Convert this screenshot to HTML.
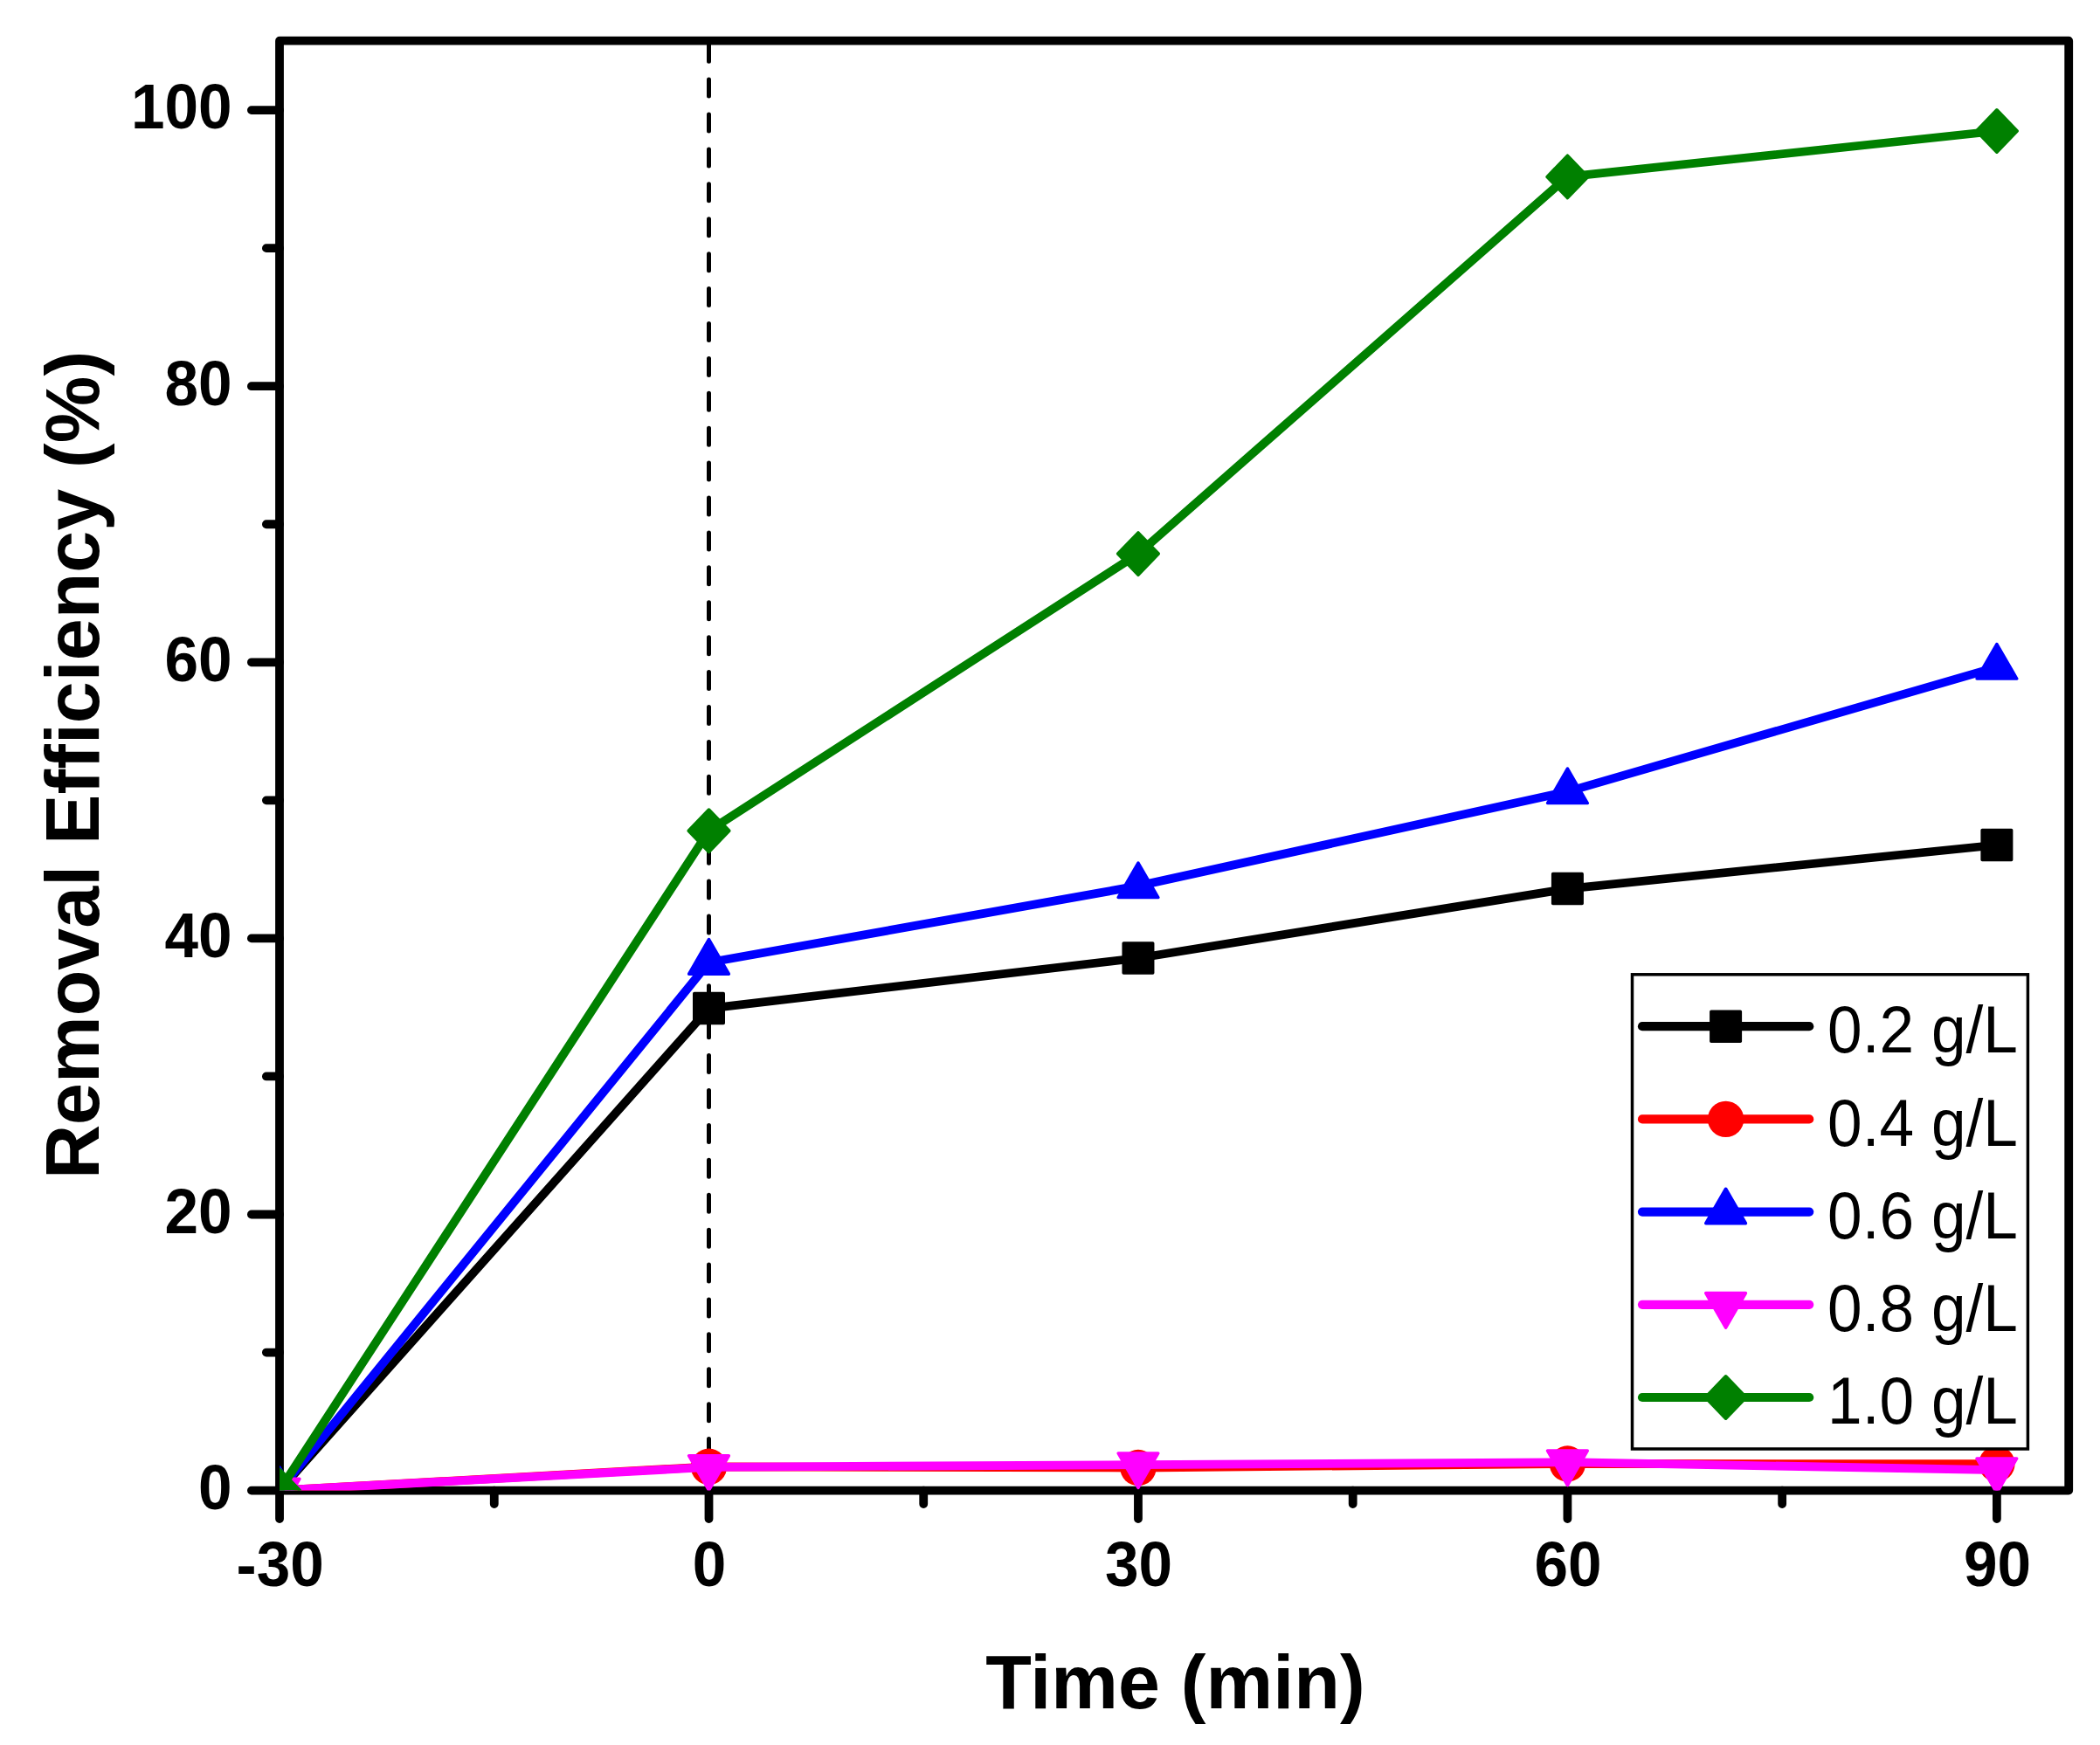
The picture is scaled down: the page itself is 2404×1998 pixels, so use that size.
<!DOCTYPE html>
<html lang="en"><head><meta charset="utf-8"><title>Removal Efficiency vs Time</title>
<style>html,body{margin:0;padding:0;background:#fff;}body{width:2404px;height:1998px;overflow:hidden;}svg{display:block;}text{font-family:"Liberation Sans", Arial, Helvetica, sans-serif;fill:#000;}.b{font-weight:bold;}</style></head><body>
<svg width="2404" height="1998" viewBox="0 0 2404 1998">
<rect x="0" y="0" width="2404" height="1998" fill="#ffffff"/>
<defs><clipPath id="plot"><rect x="320.0" y="46.7" width="2048.20" height="1659.90"/></clipPath></defs>
<rect x="320.0" y="46.7" width="2048.20" height="1659.90" fill="none" stroke="#000" stroke-width="9.8" stroke-linejoin="round"/>
<path d="M287.90 1706.60H320.0M304.90 1548.55H320.0M287.90 1390.50H320.0M304.90 1232.45H320.0M287.90 1074.40H320.0M304.90 916.35H320.0M287.90 758.30H320.0M304.90 600.25H320.0M287.90 442.20H320.0M304.90 284.15H320.0M287.90 126.10H320.0M320.04 1706.6V1739.10M565.77 1706.6V1722.00M811.50 1706.6V1739.10M1057.23 1706.6V1722.00M1302.96 1706.6V1739.10M1548.69 1706.6V1722.00M1794.42 1706.6V1739.10M2040.15 1706.6V1722.00M2285.88 1706.6V1739.10" fill="none" stroke="#000" stroke-width="9.8" stroke-linecap="round"/>
<line x1="811.5" y1="51.2" x2="811.5" y2="1706.6" stroke="#000" stroke-width="5" stroke-linecap="round" stroke-dasharray="19 20.91"/>
<g clip-path="url(#plot)">
<path d="M320.04 1706.50L811.50 1154.60L1302.96 1097.00L1794.42 1017.60L2285.88 967.50" fill="none" stroke="#000000" stroke-width="9.8" stroke-linejoin="round" stroke-linecap="round"/>
<rect x="303.34" y="1689.55" width="33.40" height="33.90" fill="#000000" stroke="#000000" stroke-width="3.6" stroke-linejoin="round"/>
<rect x="794.80" y="1137.65" width="33.40" height="33.90" fill="#000000" stroke="#000000" stroke-width="3.6" stroke-linejoin="round"/>
<rect x="1286.26" y="1080.05" width="33.40" height="33.90" fill="#000000" stroke="#000000" stroke-width="3.6" stroke-linejoin="round"/>
<rect x="1777.72" y="1000.65" width="33.40" height="33.90" fill="#000000" stroke="#000000" stroke-width="3.6" stroke-linejoin="round"/>
<rect x="2269.18" y="950.55" width="33.40" height="33.90" fill="#000000" stroke="#000000" stroke-width="3.6" stroke-linejoin="round"/>
<path d="M320.04 1706.50L811.50 1679.30L1302.96 1680.50L1794.42 1676.00L2285.88 1676.20" fill="none" stroke="#ff0000" stroke-width="9.8" stroke-linejoin="round" stroke-linecap="round"/>
<circle cx="320.04" cy="1706.50" r="20.7" fill="#ff0000"/>
<circle cx="811.50" cy="1679.30" r="20.7" fill="#ff0000"/>
<circle cx="1302.96" cy="1680.50" r="20.7" fill="#ff0000"/>
<circle cx="1794.42" cy="1676.00" r="20.7" fill="#ff0000"/>
<circle cx="2285.88" cy="1676.20" r="20.7" fill="#ff0000"/>
<path d="M320.04 1706.50L811.50 1102.00L1302.96 1014.40L1794.42 906.40L2285.88 763.90" fill="none" stroke="#0000ff" stroke-width="9.8" stroke-linejoin="round" stroke-linecap="round"/>
<polygon points="320.04,1680.17 342.84,1719.66 297.24,1719.66" fill="#0000ff" stroke="#0000ff" stroke-width="3.6" stroke-linejoin="round"/>
<polygon points="811.50,1075.67 834.30,1115.16 788.70,1115.16" fill="#0000ff" stroke="#0000ff" stroke-width="3.6" stroke-linejoin="round"/>
<polygon points="1302.96,988.07 1325.76,1027.56 1280.16,1027.56" fill="#0000ff" stroke="#0000ff" stroke-width="3.6" stroke-linejoin="round"/>
<polygon points="1794.42,880.07 1817.22,919.56 1771.62,919.56" fill="#0000ff" stroke="#0000ff" stroke-width="3.6" stroke-linejoin="round"/>
<polygon points="2285.88,737.57 2308.68,777.06 2263.08,777.06" fill="#0000ff" stroke="#0000ff" stroke-width="3.6" stroke-linejoin="round"/>
<path d="M320.04 1706.50L811.50 1679.90L1302.96 1677.10L1794.42 1674.20L2285.88 1683.10" fill="none" stroke="#ff00ff" stroke-width="9.8" stroke-linejoin="round" stroke-linecap="round"/>
<polygon points="297.24,1693.34 342.84,1693.34 320.04,1732.83" fill="#ff00ff" stroke="#ff00ff" stroke-width="3.6" stroke-linejoin="round"/>
<polygon points="788.70,1666.74 834.30,1666.74 811.50,1706.23" fill="#ff00ff" stroke="#ff00ff" stroke-width="3.6" stroke-linejoin="round"/>
<polygon points="1280.16,1663.94 1325.76,1663.94 1302.96,1703.43" fill="#ff00ff" stroke="#ff00ff" stroke-width="3.6" stroke-linejoin="round"/>
<polygon points="1771.62,1661.04 1817.22,1661.04 1794.42,1700.53" fill="#ff00ff" stroke="#ff00ff" stroke-width="3.6" stroke-linejoin="round"/>
<polygon points="2263.08,1669.94 2308.68,1669.94 2285.88,1709.43" fill="#ff00ff" stroke="#ff00ff" stroke-width="3.6" stroke-linejoin="round"/>
<path d="M320.04 1706.50L811.50 951.30L1302.96 634.10L1794.42 202.40L2285.88 150.00" fill="none" stroke="#008000" stroke-width="9.8" stroke-linejoin="round" stroke-linecap="round"/>
<polygon points="320.04,1682.30 343.34,1706.50 320.04,1730.70 296.74,1706.50" fill="#008000" stroke="#008000" stroke-width="3.6" stroke-linejoin="round"/>
<polygon points="811.50,927.10 834.80,951.30 811.50,975.50 788.20,951.30" fill="#008000" stroke="#008000" stroke-width="3.6" stroke-linejoin="round"/>
<polygon points="1302.96,609.90 1326.26,634.10 1302.96,658.30 1279.66,634.10" fill="#008000" stroke="#008000" stroke-width="3.6" stroke-linejoin="round"/>
<polygon points="1794.42,178.20 1817.72,202.40 1794.42,226.60 1771.12,202.40" fill="#008000" stroke="#008000" stroke-width="3.6" stroke-linejoin="round"/>
<polygon points="2285.88,125.80 2309.18,150.00 2285.88,174.20 2262.58,150.00" fill="#008000" stroke="#008000" stroke-width="3.6" stroke-linejoin="round"/>
</g>
<text class="b" transform="translate(265.6 1727.90) scale(0.99 1.035)" font-size="70" text-anchor="end">0</text>
<text class="b" transform="translate(265.6 1411.80) scale(0.99 1.035)" font-size="70" text-anchor="end">20</text>
<text class="b" transform="translate(265.6 1095.70) scale(0.99 1.035)" font-size="70" text-anchor="end">40</text>
<text class="b" transform="translate(265.6 779.60) scale(0.99 1.035)" font-size="70" text-anchor="end">60</text>
<text class="b" transform="translate(265.6 463.50) scale(0.99 1.035)" font-size="70" text-anchor="end">80</text>
<text class="b" transform="translate(265.6 147.40) scale(0.99 1.035)" font-size="70" text-anchor="end">100</text>
<text class="b" transform="translate(320.64 1816.2) scale(0.99 1.035)" font-size="70" text-anchor="middle">-30</text>
<text class="b" transform="translate(812.10 1816.2) scale(0.99 1.035)" font-size="70" text-anchor="middle">0</text>
<text class="b" transform="translate(1303.56 1816.2) scale(0.99 1.035)" font-size="70" text-anchor="middle">30</text>
<text class="b" transform="translate(1795.02 1816.2) scale(0.99 1.035)" font-size="70" text-anchor="middle">60</text>
<text class="b" transform="translate(2286.48 1816.2) scale(0.99 1.035)" font-size="70" text-anchor="middle">90</text>
<text class="b" transform="translate(1345.4 1955.7) scale(0.997 1)" font-size="86.5" text-anchor="middle">Time (min)</text>
<text class="b" transform="translate(113.2 876) rotate(-90) scale(0.9965 1)" font-size="86.5" text-anchor="middle">Removal Efficiency (%)</text>
<rect x="1868.5" y="1115.8" width="452.90" height="543.20" fill="#fff" stroke="#000" stroke-width="3.5"/>
<line x1="1880" y1="1175.20" x2="2071.2" y2="1175.20" stroke="#000000" stroke-width="10.200000000000001" stroke-linecap="round"/>
<rect x="1958.90" y="1158.25" width="33.40" height="33.90" fill="#000000" stroke="#000000" stroke-width="3.6" stroke-linejoin="round"/>
<text transform="translate(2092.1 1205.40) scale(0.9825 1.04)" font-size="72.5">0.2 g/L</text>
<line x1="1880" y1="1281.40" x2="2071.2" y2="1281.40" stroke="#ff0000" stroke-width="10.200000000000001" stroke-linecap="round"/>
<circle cx="1975.60" cy="1281.40" r="20.7" fill="#ff0000"/>
<text transform="translate(2092.1 1311.60) scale(0.9825 1.04)" font-size="72.5">0.4 g/L</text>
<line x1="1880" y1="1387.60" x2="2071.2" y2="1387.60" stroke="#0000ff" stroke-width="10.200000000000001" stroke-linecap="round"/>
<polygon points="1975.60,1361.27 1998.40,1400.76 1952.80,1400.76" fill="#0000ff" stroke="#0000ff" stroke-width="3.6" stroke-linejoin="round"/>
<text transform="translate(2092.1 1417.80) scale(0.9825 1.04)" font-size="72.5">0.6 g/L</text>
<line x1="1880" y1="1493.80" x2="2071.2" y2="1493.80" stroke="#ff00ff" stroke-width="10.200000000000001" stroke-linecap="round"/>
<polygon points="1952.80,1480.64 1998.40,1480.64 1975.60,1520.13" fill="#ff00ff" stroke="#ff00ff" stroke-width="3.6" stroke-linejoin="round"/>
<text transform="translate(2092.1 1524.00) scale(0.9825 1.04)" font-size="72.5">0.8 g/L</text>
<line x1="1880" y1="1600.00" x2="2071.2" y2="1600.00" stroke="#008000" stroke-width="10.200000000000001" stroke-linecap="round"/>
<polygon points="1975.60,1575.80 1998.90,1600.00 1975.60,1624.20 1952.30,1600.00" fill="#008000" stroke="#008000" stroke-width="3.6" stroke-linejoin="round"/>
<text transform="translate(2092.1 1630.20) scale(0.9825 1.04)" font-size="72.5">1.0 g/L</text>
</svg></body></html>
